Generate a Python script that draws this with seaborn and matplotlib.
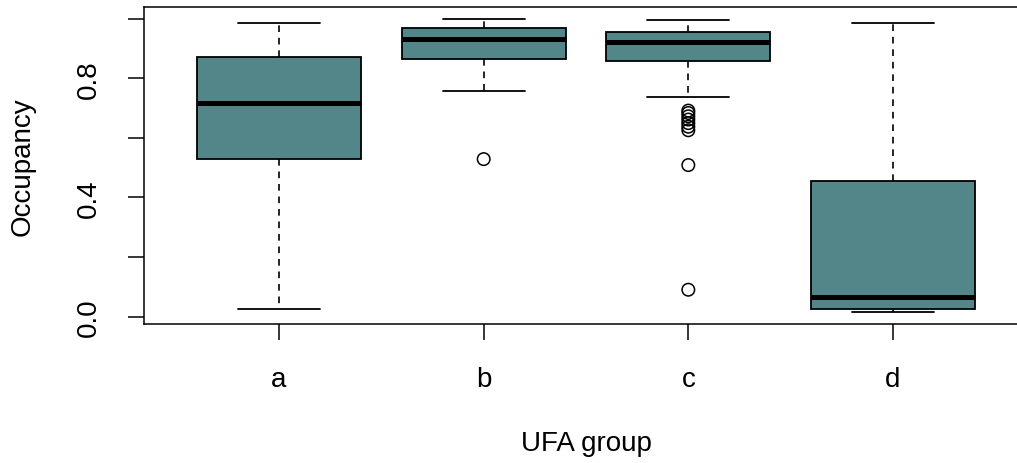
import matplotlib
matplotlib.use("Agg")
import matplotlib.pyplot as plt
import seaborn as sns
import pandas as pd

# Occupancy summary per UFA group: whisker ends, quartiles and median
groups = ["a", "b", "c", "d"]
whisker_low = [0.025, 0.758, 0.738, 0.014]
q1 = [0.529, 0.867, 0.858, 0.025]
median = [0.718, 0.934, 0.922, 0.067]
q3 = [0.872, 0.970, 0.955, 0.454]
whisker_high = [0.987, 1.000, 0.997, 0.987]

# Observations beyond 1.5 IQR
outlier_group = ["b", "c", "c", "c", "c", "c", "c", "c", "c", "c"]
outlier_value = [0.529, 0.692, 0.684, 0.673, 0.662, 0.650, 0.638, 0.626, 0.509, 0.090]

box_color = "#528689"

rows = []
for g, lo, a, m, b, hi in zip(groups, whisker_low, q1, median, q3, whisker_high):
    for v in (lo, a, m, b, hi):
        rows.append({"group": g, "occupancy": v})
box_df = pd.DataFrame(rows)
out_df = pd.DataFrame({"group": outlier_group, "occupancy": outlier_value})

sns.set_style("ticks")
plt.rcParams["font.family"] = ["Liberation Sans", "DejaVu Sans"]
plt.rcParams["text.color"] = "black"
plt.rcParams["axes.labelcolor"] = "black"

fig = plt.figure(figsize=(10.17, 4.64), dpi=100)
ax = fig.add_axes([144 / 1017, 1 - 325 / 464, 884 / 1017, 317 / 464])

sns.boxplot(
    data=box_df, x="group", y="occupancy", order=groups, ax=ax,
    width=0.8, color=box_color, saturation=1, showfliers=False,
    boxprops=dict(facecolor=box_color, edgecolor="black", linewidth=1.3),
    medianprops=dict(color="black", linewidth=3.6),
    whiskerprops=dict(color="black", linewidth=1.2, linestyle=(0, (4, 3.5))),
    capprops=dict(color="black", linewidth=1.3),
)

n_before = len(ax.collections)
sns.stripplot(
    data=out_df, x="group", y="occupancy", order=groups, ax=ax,
    jitter=False, marker="o", size=9, linewidth=1.1,
    color="none", edgecolor="black",
)
for coll in ax.collections[n_before:]:
    coll.set_facecolor("none")
    coll.set_edgecolor("black")

ax.set_xlim(-0.66, 3.66)
ax.set_ylim(-0.0252, 1.0403)

ax.set_yticks([0.0, 0.2, 0.4, 0.6, 0.8, 1.0])
ax.set_yticklabels(["0.0", "", "0.4", "", "0.8", ""], rotation=90, va="center")

ax.tick_params(axis="both", direction="out", length=11.5, width=1.1,
               color="black", labelsize=20, labelcolor="black")
ax.tick_params(axis="y", pad=19)
ax.tick_params(axis="x", pad=19)

ax.set_xlabel("UFA group", fontsize=20, labelpad=27, color="black")
ax.set_ylabel("Occupancy", fontsize=20, labelpad=29, color="black")

for side in ["top", "bottom", "left", "right"]:
    ax.spines[side].set_visible(True)
    ax.spines[side].set_color("black")
    ax.spines[side].set_linewidth(1.1)

fig.savefig("out.png", dpi=100)
